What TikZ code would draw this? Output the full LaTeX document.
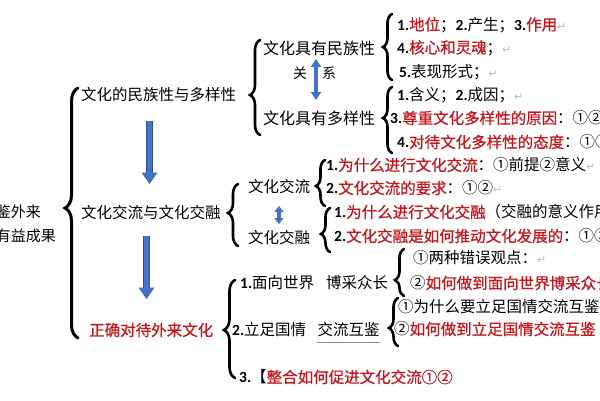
\documentclass[tikz,border=0pt]{standalone}
\usepackage{fontspec}
\setmainfont{Noto Sans CJK SC}
\newfontfamily\redf[FakeBold=0.8]{Noto Sans CJK SC}
\newfontfamily\numf{Carlito}
\newfontfamily\symf{DejaVu Sans}
\usetikzlibrary{decorations.pathreplacing,arrows.meta}
\definecolor{rd}{RGB}{195,25,30}
\definecolor{ab}{RGB}{68,114,196}
\definecolor{abd}{RGB}{47,82,143}
\definecolor{ul}{RGB}{120,140,170}
\newcommand{\N}[1]{{\numf\bfseries #1}}
\newcommand{\Rd}[1]{\textcolor{rd}{\redf #1}}
\newcommand{\rt}{{\symf\color{black!25}\fontsize{11}{11}\selectfont ↵}}
\newcommand{\brc}[6]{%
  \pgfmathsetmacro\asp{(#3-#4)/(#3-#2)}%
  \draw[bracestyle, line width=#6, decoration={brace, amplitude=#5, aspect=\asp}] (#1,#3) -- (#1,#2);}
\tikzset{
  txt/.style={inner sep=0pt, anchor=west, font=\fontsize{15.5}{18}\selectfont},
  sml/.style={inner sep=0pt, anchor=east, font=\fontsize{15}{17}\selectfont},
  bracestyle/.style={decorate, line cap=round},
  blk/.style={line width=5pt, draw=ab, -{Triangle[width=13pt,length=10pt]}},
  blko/.style={line width=6.2pt, draw=abd, -{Triangle[width=15pt,length=11.5pt]}},
  dbl/.style={line width=4pt, draw=ab, {Triangle[width=10pt,length=8pt]}-{Triangle[width=10pt,length=8pt]}},
  dbs/.style={line width=3.5pt, draw=ab, {Triangle[width=9pt,length=6pt]}-{Triangle[width=9pt,length=6pt]}},
}
\begin{document}
\begin{tikzpicture}[x=1pt,y=-1pt]
\useasboundingbox (0,0) rectangle (600,400);
\fill[white] (0,0) rectangle (600,400);
\clip (0,0) rectangle (600,400);

% left cut-off text
\node[sml] (n0a) at (41,212) {鉴外来};
\node[sml] (n0b) at (56,236) {有益成果};

% main column
\node[txt] (n1) at (81,95) {文化的民族性与多样性};
\node[txt] (n2) at (81,213) {文化交流与文化交融};
\node[txt] (n3) at (89,330) {\Rd{正确对待外来文化}};

% level 2
\node[txt,font=\fontsize{16}{18}\selectfont] (n11) at (263,48) {文化具有民族性};
\node[txt,font=\fontsize{16}{18}\selectfont] (n12) at (263,118) {文化具有多样性};
\node[inner sep=0pt,font=\fontsize{14}{16}\selectfont] (gx) at (300,73) {关};
\node[inner sep=0pt,font=\fontsize{14}{16}\selectfont] (xi) at (329,73) {系};
\node[txt] (n21) at (248,187) {文化交流};
\node[txt] (n22) at (248,238) {文化交融};

% level 3 : 民族性
\node[txt] (n111) at (397,25) {\N{1.}\Rd{地位}；\N{2.}产生；\N{3.}\Rd{作用}\rt};
\node[txt] (n112) at (397,48) {\N{4.}\Rd{核心和灵魂}；\rt};
\node[txt] (n113) at (399,72) {\N{5.}表现形式；\rt};
% 多样性
\node[txt] (n121) at (397,95) {\N{1.}含义；\N{2.}成因；\rt};
\node[txt] (n122) at (390,118) {\N{3.}\Rd{尊重文化多样性的原因}：①②③};
\node[txt] (n123) at (397,142) {\N{4.}\Rd{对待文化多样性的态度}：①②};
% 交流
\node[txt] (n211) at (326,165) {\N{1.}\Rd{为什么进行文化交流}：①前提②意义\rt};
\node[txt] (n212) at (326,188) {\N{2.}\Rd{文化交流的要求}：①②\rt};
% 交融
\node[txt] (n221) at (334,212) {\N{1.}\Rd{为什么进行文化交融}（交融的意义作用）};
\node[txt] (n222) at (334,236) {\N{2.}\Rd{文化交融是如何推动文化发展的}：①②};
% 正确对待外来文化
\node[txt] (n31) at (240,283) {\N{1.}面向世界\hspace{12pt}博采众长};
\node[txt] (n32a) at (232,330) {\N{2.}立足国情};
\node[txt] (n32b) at ([xshift=11pt]n32a.east) {交流互鉴};
\node[txt] (n33) at (239,377) {\N{3.}【\Rd{整合如何促进文化交流①②}};
\node[txt] (n311) at (413,258) {①两种错误观点：\rt};
\node[txt] (n312) at (410,283) {②\Rd{如何做到面向世界博采众长}};
\node[txt] (n321) at (398,307) {①为什么要立足国情交流互鉴};
\node[txt] (n322) at (394,329) {②\Rd{如何做到立足国情交流互鉴}};

% underline
\draw[ul, line width=0.9pt] ([yshift=-5pt]n32b.south west) -- ([yshift=-5pt]n32b.south east);

% braces
\brc{78}{88}{338}{208}{13pt}{3pt}
\brc{260}{40}{135}{95}{10pt}{2.6pt}
\brc{392}{14}{80}{47}{9pt}{2.6pt}
\brc{392}{87}{153}{118}{9pt}{2.6pt}
\brc{238}{184}{246}{213}{10pt}{2.6pt}
\brc{325}{160}{206}{186}{9pt}{2.6pt}
\brc{330}{208}{252}{234}{9pt}{2.6pt}
\brc{235}{280}{378}{330}{11pt}{2.6pt}
\brc{404}{249}{296}{280}{9pt}{2.6pt}
\brc{398}{298}{346}{328}{9pt}{2.6pt}

% arrows
\coordinate (a1s) at (149.5,121); \coordinate (a1e) at (149.5,184);
\coordinate (a2s) at (146.5,236); \coordinate (a2e) at (146.5,299);
\coordinate (a3s) at (316,59);    \coordinate (a3e) at (316,100);
\coordinate (a4s) at (279,206);   \coordinate (a4e) at (279,224);
\draw[blko] (a1s) -- (a1e);
\draw[blk] (a1s) -- ([yshift=0.8pt]a1e);
\draw[blko] (a2s) -- (a2e);
\draw[blk] (a2s) -- ([yshift=0.8pt]a2e);
\draw[dbl] (a3s) -- (a3e);
\draw[dbs] (a4s) -- (a4e);
\end{tikzpicture}
\end{document}
